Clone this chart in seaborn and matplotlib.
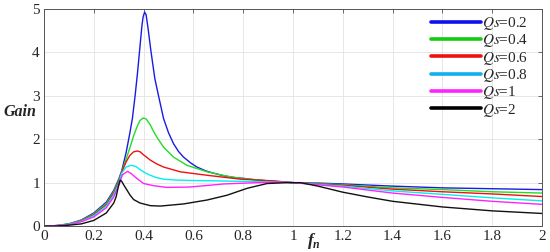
import matplotlib
matplotlib.use("Agg")
import matplotlib.pyplot as plt
import seaborn as sns
import pandas as pd

# Qs = 0.2
fn_02 = [0, 0.05, 0.1, 0.15, 0.2, 0.25, 0.28, 0.3, 0.312, 0.33, 0.345, 0.355, 0.366, 0.375,
         0.384, 0.393, 0.398, 0.404, 0.41, 0.418, 0.429, 0.445, 0.46, 0.48, 0.5, 0.52, 0.54,
         0.56, 0.59, 0.614, 0.65, 0.68, 0.72, 0.76, 0.8, 0.84, 0.9, 0.95, 1.0, 1.1, 1.2, 1.4,
         1.6, 1.8, 2.0]
gain_02 = [0, 0.01, 0.05, 0.14, 0.30, 0.55, 0.82, 1.08, 1.27, 1.70, 2.15, 2.48, 3.01, 3.5,
           4.05, 4.6, 4.82, 4.93, 4.87, 4.55, 4.05, 3.4, 3.0, 2.48, 2.15, 1.90, 1.72,
           1.59, 1.45, 1.36, 1.27, 1.22, 1.16, 1.12, 1.10, 1.07, 1.04, 1.02, 1.0, 0.99, 0.97, 0.92,
           0.88, 0.86, 0.84]

# Qs = 0.4
fn_04 = [0, 0.05, 0.1, 0.15, 0.2, 0.25, 0.28, 0.3, 0.312, 0.33, 0.346, 0.36, 0.373, 0.385,
         0.398, 0.41, 0.427, 0.44, 0.453, 0.48, 0.52, 0.574, 0.655, 0.735, 0.8, 0.829, 0.92, 1.0,
         1.1, 1.2, 1.4, 1.6, 1.8, 2.0]
gain_04 = [0, 0.01, 0.05, 0.13, 0.28, 0.52, 0.79, 1.05, 1.25, 1.55, 1.82, 2.08, 2.28, 2.43,
           2.49, 2.47, 2.33, 2.18, 2.05, 1.82, 1.59, 1.40, 1.25, 1.15, 1.09, 1.08, 1.03, 1.0,
           0.98, 0.95, 0.88, 0.84, 0.79, 0.76]

# Qs = 0.6
fn_06 = [0, 0.05, 0.1, 0.15, 0.2, 0.25, 0.28, 0.3, 0.312, 0.33, 0.345, 0.36, 0.375, 0.386,
         0.4, 0.427, 0.45, 0.48, 0.547, 0.655, 0.789, 0.923, 1.0, 1.1, 1.2, 1.4, 1.6, 1.8, 2.0]
gain_06 = [0, 0.01, 0.04, 0.12, 0.26, 0.49, 0.76, 1.02, 1.24, 1.48, 1.63, 1.71, 1.73, 1.71,
           1.64, 1.52, 1.44, 1.36, 1.25, 1.17, 1.08, 1.04, 1.0, 0.97, 0.94, 0.85, 0.79, 0.74, 0.68]

# Qs = 0.8
fn_08 = [0, 0.05, 0.1, 0.15, 0.2, 0.25, 0.28, 0.3, 0.312, 0.33, 0.35, 0.37, 0.386, 0.405,
         0.427, 0.45, 0.48, 0.53, 0.588, 0.7, 0.789, 0.9, 1.0, 1.1, 1.2, 1.4, 1.6, 1.8, 2.0]
gain_08 = [0, 0.01, 0.04, 0.11, 0.24, 0.46, 0.72, 0.98, 1.22, 1.36, 1.40, 1.37, 1.30, 1.23,
           1.17, 1.12, 1.08, 1.06, 1.05, 1.04, 1.03, 1.02, 1.0, 0.96, 0.92, 0.81, 0.73, 0.65, 0.58]

# Qs = 1
fn_1 = [0, 0.05, 0.1, 0.15, 0.2, 0.25, 0.28, 0.3, 0.315, 0.335, 0.35, 0.37, 0.386, 0.4, 0.44,
        0.494, 0.588, 0.722, 0.856, 0.95, 1.0, 1.1, 1.2, 1.4, 1.6, 1.8, 2.0]
gain_1 = [0, 0.01, 0.03, 0.10, 0.21, 0.42, 0.67, 0.93, 1.18, 1.26, 1.21, 1.11, 1.04, 0.98, 0.93,
          0.89, 0.90, 0.97, 1.0, 1.01, 1.0, 0.95, 0.90, 0.76, 0.66, 0.57, 0.50]

# Qs = 2
fn_2 = [0, 0.05, 0.1, 0.15, 0.2, 0.25, 0.28, 0.29, 0.3, 0.306, 0.312, 0.32, 0.333, 0.346, 0.36,
        0.386, 0.427, 0.467, 0.561, 0.655, 0.735, 0.816, 0.896, 0.977, 1.03, 1.1, 1.2, 1.3, 1.4,
        1.6, 1.8, 2.0]
gain_2 = [0, 0.0, 0.02, 0.05, 0.13, 0.30, 0.53, 0.68, 0.95, 1.06, 1.03, 0.95, 0.83, 0.71, 0.61,
          0.53, 0.47, 0.46, 0.51, 0.60, 0.71, 0.87, 0.98, 1.0, 1.0, 0.92, 0.78, 0.67, 0.57,
          0.44, 0.35, 0.29]

labels = [r"$Qs$=0.2", r"$Qs$=0.4", r"$Qs$=0.6", r"$Qs$=0.8", r"$Qs$=1", r"$Qs$=2"]
colors = ["#1a1ae6", "#22dd22", "#ee1111", "#00f0f0", "#ff22ff", "#111111"]
legend_colors = ["#1010ee", "#11cc11", "#ee1111", "#10aff0", "#ff22ff", "#000000"]

series = [(fn_02, gain_02), (fn_04, gain_04), (fn_06, gain_06),
          (fn_08, gain_08), (fn_1, gain_1), (fn_2, gain_2)]
frames = []
for lab, (x, y) in zip(labels, series):
    frames.append(pd.DataFrame({"fn": x, "gain": y, "Qs": lab}))
df = pd.concat(frames, ignore_index=True)

sns.set_style("white")
plt.rcParams["font.family"] = ["Liberation Serif", "DejaVu Serif"]
plt.rcParams["mathtext.fontset"] = "stix"

fig = plt.figure(figsize=(5.5, 2.52), dpi=100)
ax = fig.add_axes([0.08, 0.103, 0.9055, 0.861])

sns.lineplot(data=df, x="fn", y="gain", hue="Qs", palette=dict(zip(labels, colors)),
             estimator=None, sort=False, linewidth=1.0, ax=ax)

ax.set_xlim(0, 2)
ax.set_ylim(0, 5)
ax.set_xticks([0, 0.2, 0.4, 0.6, 0.8, 1, 1.2, 1.4, 1.6, 1.8, 2])
ax.set_xticklabels(["0", "0.2", "0.4", "0.6", "0.8", "1", "1.2", "1.4", "1.6", "1.8", "2"])
ax.set_yticks([0, 1, 2, 3, 4, 5])
ax.grid(True, color="#e3e3e3", linewidth=0.6)
ax.tick_params(direction="in", length=3, width=0.6, color="#555555", top=True, right=True,
               labelsize=11, pad=3)
for s in ax.spines.values():
    s.set_color("#555555")
    s.set_linewidth(0.7)
ax.set_xlabel("")
ax.set_ylabel("")

# axis names
fig.text(20 / 550, 1 - 112 / 252, "Gain", fontsize=11.5, fontweight="bold", fontstyle="italic",
         ha="center", va="center")
fig.text(311 / 550, 1 - 241 / 252, "f", fontsize=12.5, fontweight="bold", fontstyle="italic",
         ha="center", va="center")
fig.text(316.5 / 550, 1 - 245 / 252, "n", fontsize=8.5, fontweight="bold", fontstyle="italic",
         ha="center", va="center")

handles, labs = ax.get_legend_handles_labels()
leg = ax.legend(handles, labs, loc="upper right", frameon=False, fontsize=11,
                handlelength=3.3, handletextpad=0.05, labelspacing=0.02,
                borderaxespad=0.0, bbox_to_anchor=(0.985, 1.0))
for h, c in zip(leg.get_lines(), legend_colors):
    h.set_linewidth(2.6)
    h.set_color(c)

fig.savefig("out.png", dpi=100)
